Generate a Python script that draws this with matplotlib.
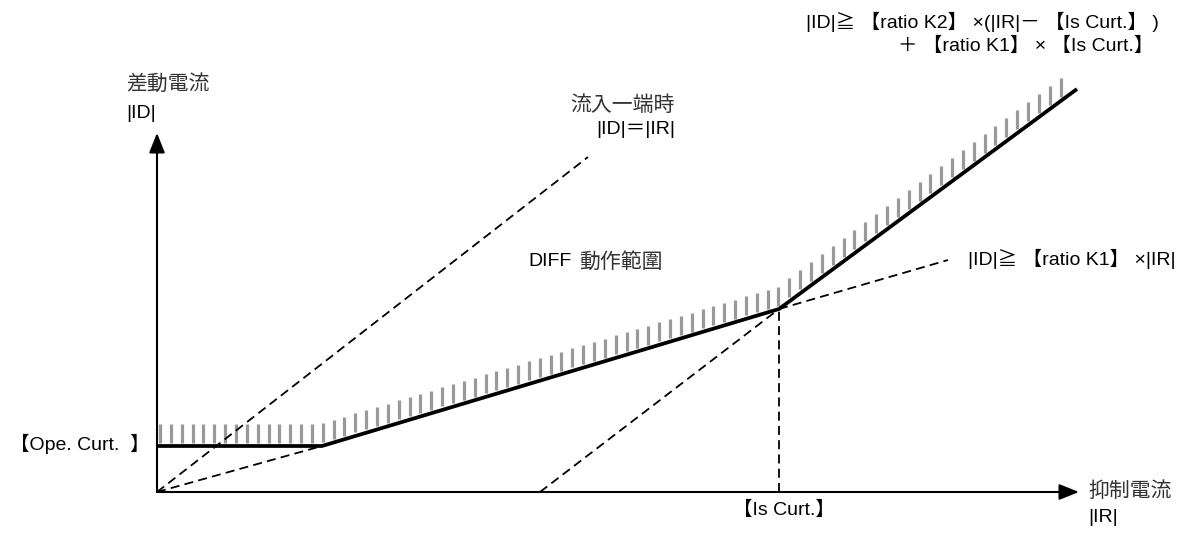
import numpy as np
import matplotlib
matplotlib.use("Agg")
import matplotlib.pyplot as plt

plt.rcParams['font.family'] = ['Liberation Sans', 'Noto Sans CJK JP', 'DejaVu Sans']

# ---- data (arbitrary current units) ----
ope_curt = 0.46          # 【Ope. Curt.】 level
is_curt = 6.22           # 【Is Curt.】 breakpoint on |IR|
curve_IR = [0.0, 1.65, 6.22, 9.20]   # operating characteristic |IR|
curve_ID = [0.46, 0.46, 1.83, 4.03]  # operating characteristic |ID|
k1_low_IR = [0.0, 1.65]
k1_low_ID = [0.0, 0.46]
k1_ext_IR = [6.22, 7.91]
k1_ext_ID = [1.83, 2.32]
k2_ext_IR = [3.83, 6.22]
k2_ext_ID = [0.0, 1.83]
eq_IR = [0.0, 4.31]       # |ID| = |IR| (single-end infeed)
eq_ID = [0.0, 3.35]
x_axis_end = 9.22
y_axis_end = 3.59

W, H = 1189, 534
fig = plt.figure(figsize=(W / 100, H / 100), dpi=100)
ax = fig.add_axes([0, 0, 1, 1])
ax.set_xlim(-1.57, (W - 157) / 100)
ax.set_ylim((492 - H) / 100, 4.92)
ax.axis('off')

# axes with arrows
arrow_kw = dict(arrowstyle='-|>,head_length=0.6,head_width=0.24', lw=1.5,
                color='black', shrinkA=0, shrinkB=0, mutation_scale=20)
ax.annotate('', xy=(x_axis_end, 0), xytext=(0, 0), arrowprops=arrow_kw, zorder=5)
ax.annotate('', xy=(0, y_axis_end), xytext=(0, 0), arrowprops=arrow_kw, zorder=5)

# hatching above the characteristic
hx = np.arange(0.03, 9.12, 0.1085)
hy = np.interp(hx, curve_IR, curve_ID)
seg_slope = np.where(hx < curve_IR[1], 0.0, np.where(hx < curve_IR[2], 0.30, 0.74))
bottom = hy + 0.03 + 0.02 * seg_slope
top = bottom + 0.19
ax.vlines(hx, bottom, top, colors='#999999', lw=2.3, zorder=2)

# dashed helper lines
dash_kw = dict(color='black', lw=1.3, dashes=(5.0, 2.9), zorder=3)
ax.plot(eq_IR, eq_ID, **dash_kw)
ax.plot(k1_low_IR, k1_low_ID, **dash_kw)
ax.plot(k1_ext_IR, k1_ext_ID, **dash_kw)
ax.plot(k2_ext_IR, k2_ext_ID, **dash_kw)
ax.plot([is_curt, is_curt], [0, np.interp(is_curt, curve_IR, curve_ID)], **dash_kw)

# operating characteristic
ax.plot(curve_IR, curve_ID, color='black', lw=2.7, solid_joinstyle='miter',
        solid_capstyle='butt', zorder=4)

fs = 14
fc = 15
tc = '#000000'
cc = '#333333'
ax.text(-0.31, 4.08, '差動電流', fontsize=fc, ha='left', va='center', color=cc)
ax.text(-0.31, 3.78, '|ID|', fontsize=fs, ha='left', va='center', color=tc)
ax.text(5.18, 3.87, '流入一端時', fontsize=fc, ha='right', va='center', color=cc)
ax.text(5.18, 3.62, '|ID|＝|IR|', fontsize=fs, ha='right', va='center', color=tc)
ax.text(3.71, 2.30, 'DIFF', fontsize=fs, ha='left', va='center', color=tc)
ax.text(5.06, 2.30, '動作範圍', fontsize=fc, ha='right', va='center', color=cc)
ax.text(8.11, 2.33, '|ID|≧ 【ratio K1】 ×|IR|', fontsize=fs, ha='left', va='center', color=tc)
ax.text(6.49, 4.70, '|ID|≧ 【ratio K2】 ×(|IR|－ 【Is Curt.】 )', fontsize=fs,
        ha='left', va='center', color=tc)
ax.text(9.96, 4.46, '＋ 【ratio K1】 × 【Is Curt.】', fontsize=fs, ha='right',
        va='center', color=tc)
ax.text(-1.47, ope_curt + 0.02, '【Ope. Curt.  】', fontsize=fs, ha='left', va='center', color=tc)
ax.text(is_curt + 0.05, -0.18, '【Is Curt.】', fontsize=fs, ha='center', va='center', color=tc)
ax.text(9.31, 0.01, '抑制電流', fontsize=fc, ha='left', va='center', color=cc)
ax.text(9.31, -0.26, '|IR|', fontsize=fs, ha='left', va='center', color=tc)

fig.savefig('out.png', dpi=100, facecolor='white')
